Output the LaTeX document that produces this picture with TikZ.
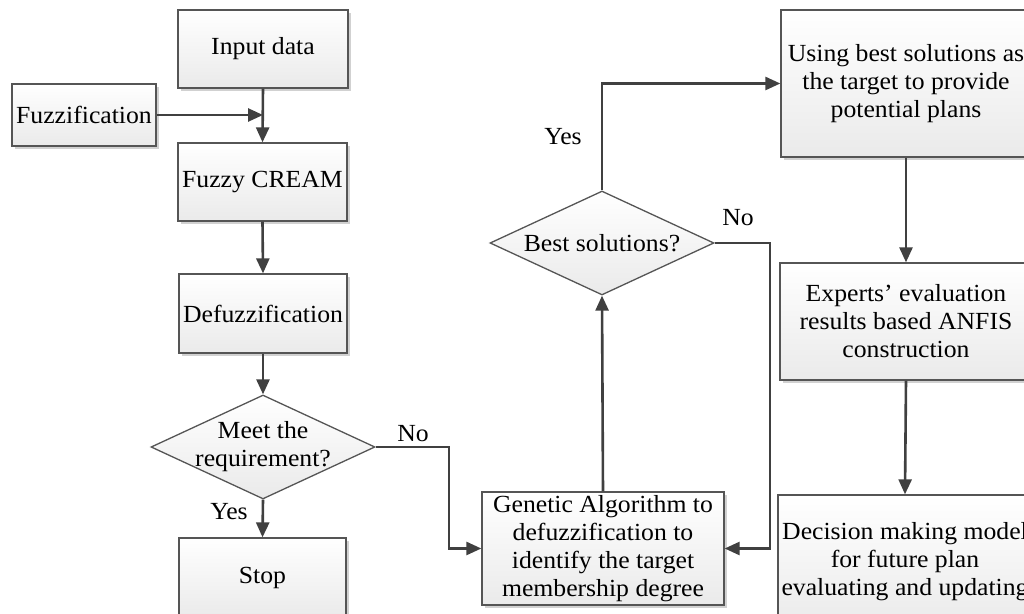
\documentclass[tikz,border=0pt]{standalone}
\usepackage{fontspec}
\setmainfont[FakeStretch=1.045,Ligatures={TeX,NoCommon}]{Liberation Serif}
\usetikzlibrary{arrows.meta,shapes.geometric,shadows}
\definecolor{edge}{HTML}{555555}
\definecolor{arrowc}{HTML}{404040}
\definecolor{boxbot}{HTML}{EAEAEA}
\tikzset{
  txt/.style={font=\fontsize{12.3}{14}\selectfont, align=center, text=black},
  procbox/.style={txt, draw=edge, line width=0.65pt, rectangle, inner sep=0pt,
    top color=white, bottom color=boxbot,
    drop shadow={shadow xshift=1.5pt, shadow yshift=-1.5pt, fill=black!18, opacity=1}},
  decbox/.style={draw=edge, line width=0.65pt, diamond, inner sep=0pt,
    minimum width=112pt, minimum height=52pt, top color=white, bottom color=boxbot},
  arr/.style={draw=arrowc, line width=1.3pt, -{Triangle[length=7.5pt,width=6.5pt]}},
  lbl/.style={txt}
}
\begin{document}
\begin{tikzpicture}[x=0.5pt,y=-0.5pt]
\useasboundingbox (0,0) rectangle (1024,614);
\fill[white] (0,0) rectangle (1024,614);
\clip (0,0) rectangle (1024,614);

\node[procbox, minimum width=85pt, minimum height=39pt] (input) at (263,49) {Input data};
\node[procbox, minimum width=72pt, minimum height=31pt] (fuzz) at (84,115) {Fuzzification};
\node[procbox, minimum width=84.5pt, minimum height=39pt] (cream) at (262.5,182) {Fuzzy CREAM};
\node[procbox, minimum width=84pt, minimum height=39.5pt] (defuzz) at (263,313.5) {Defuzzification};
\node[decbox, label={[txt]center:Meet the\\requirement?}] (meet) at (263,447) {};
\node[procbox, minimum width=83.5pt, minimum height=40pt] (stop) at (262.5,578) {Stop};
\node[procbox, minimum width=121pt, minimum height=56.5pt] (ga) at (603,548.5)
  {Genetic Algorithm to\\defuzzification to\\identify the target\\membership degree};
\node[decbox, label={[txt]center:Best solutions?}] (best) at (602,243) {};
\node[procbox, minimum width=125pt, minimum height=73.5pt] (using) at (906,83.5)
  {Using best solutions as\\the target to provide\\potential plans};
\node[procbox, minimum width=126pt, minimum height=58.5pt] (experts) at (906,321.5)
  {Experts' evaluation\\results based ANFIS\\construction};
\node[procbox, minimum width=127pt, minimum height=67pt] (decision) at (905,562)
  {Decision making model\\for future plan\\evaluating and updating};

\node[lbl] (yes1) at (229,512) {Yes};
\node[lbl] (no1) at (413,434) {No};
\node[lbl] (no2) at (738,218) {No};
\node[lbl] (yes2) at (563,137) {Yes};

\coordinate (c1) at (449,447);
\coordinate (c2) at (770,243);

\draw[arr] (input.south) -- (cream.north);
\draw[arr] (fuzz.east) -- (fuzz.east -| input.south);
\draw[arr] (cream.south) -- (defuzz.north);
\draw[arr] (defuzz.south) -- (meet.north);
\draw[arr] (meet.south) -- (stop.north);
\draw[arr] (meet.east) -- (c1) |- (ga.west);
\draw[arr] (ga.north) -- (best.south);
\draw[arr] (best.east) -- (c2) |- (ga.east);
\draw[arr] (best.north) |- (using.west);
\draw[arr] (using.south) -- (experts.north);
\draw[arr] (experts.south) -- (decision.north);
\end{tikzpicture}
\end{document}
